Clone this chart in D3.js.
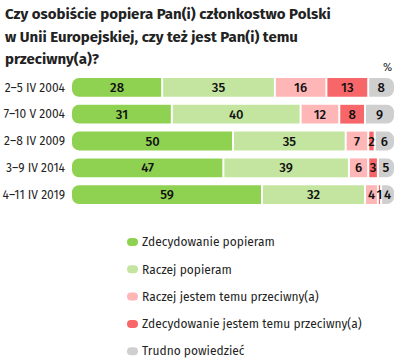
<!DOCTYPE html>
<html>
<head>
<meta charset="utf-8">
<script src="https://cdn.jsdelivr.net/npm/d3@7"></script>
<style>
  body { margin: 0; background: #fff; }
  svg { font-family: "Fira Sans", "Noto Sans", sans-serif; }
</style>
</head>
<body>
<script>
// dane
var titleLines = [
  "Czy osobiście popiera Pan(i) członkostwo Polski",
  "w Unii Europejskiej, czy też jest Pan(i) temu",
  "przeciwny(a)?"
];
var dates = ["2–5 IV 2004", "7–10 V 2004", "2–8 IV 2009", "3–9 IV 2014", "4–11 IV 2019"];
var seriesNames = [
  "Zdecydowanie popieram",
  "Raczej popieram",
  "Raczej jestem temu przeciwny(a)",
  "Zdecydowanie jestem temu przeciwny(a)",
  "Trudno powiedzieć"
];
var zdecydowaniePopieram = [28, 31, 50, 47, 59];
var raczejPopieram = [35, 40, 35, 39, 32];
var raczejPrzeciw = [16, 12, 7, 6, 4];
var zdecydowaniePrzeciw = [13, 8, 2, 3, 1];
var trudno = [8, 9, 6, 5, 4];
var colors = ["#8fd151", "#c3e5a0", "#feb6b6", "#f76668", "#cfcfcf"];

var width = 400, height = 358;
var margin = { left: 72, right: 6 };

var svg = d3.select("body").append("svg")
  .attr("width", width)
  .attr("height", height);

// tytuł
svg.append("g").selectAll("text")
  .data(titleLines)
  .enter()
  .append("text")
  .attr("x", 5)
  .attr("y", (d, i) => 19 + i * 22.5)
  .style("font-size", "15px")
  .style("font-weight", "bold")
  .style("fill", "#222")
  .text(d => d);

var table = dates.map(function (d, i) {
  return {
    date: d,
    values: [zdecydowaniePopieram[i], raczejPopieram[i], raczejPrzeciw[i], zdecydowaniePrzeciw[i], trudno[i]]
  };
});

var x = d3.scaleLinear().domain([0, 100]).range([margin.left, width - margin.right]);
var y = d3.scaleBand().domain(dates).range([78, 204]).paddingInner(0.3).paddingOuter(0);

svg.append("text")
  .attr("x", 392)
  .attr("y", 71)
  .attr("text-anchor", "end")
  .style("font-size", "11px")
  .style("fill", "#222")
  .text("%");

// etykiety wierszy
svg.append("g").selectAll("text")
  .data(dates)
  .enter()
  .append("text")
  .attr("x", 65)
  .attr("y", d => y(d) + y.bandwidth() / 2)
  .attr("dy", "0.35em")
  .attr("text-anchor", "end")
  .style("font-size", "12px")
  .style("fill", "#222")
  .text(d => d);

var r = 7;
function segPath(x0, x1, y0, h, first, last) {
  var p = d3.path();
  var rl = first ? r : 0, rr = last ? r : 0;
  p.moveTo(x0 + rl, y0);
  p.lineTo(x1 - rr, y0);
  if (rr) p.arcTo(x1, y0, x1, y0 + rr, rr);
  p.lineTo(x1, y0 + h - rr);
  if (rr) p.arcTo(x1, y0 + h, x1 - rr, y0 + h, rr);
  p.lineTo(x0 + rl, y0 + h);
  if (rl) p.arcTo(x0, y0 + h, x0, y0 + h - rl, rl);
  p.lineTo(x0, y0 + rl);
  if (rl) p.arcTo(x0, y0, x0 + rl, y0, rl);
  p.closePath();
  return p.toString();
}

var rows = svg.append("g").selectAll("g")
  .data(table)
  .enter()
  .append("g");

rows.each(function (row) {
  var g = d3.select(this);
  var total = d3.sum(row.values);
  var cum = 0;
  var segs = row.values.map(function (v, k) {
    var s = { v: v, k: k, a: cum, b: cum + v };
    cum += v;
    return s;
  });
  var y0 = y(row.date), h = y.bandwidth();
  g.selectAll("path")
    .data(segs)
    .enter()
    .append("path")
    .attr("d", function (s) {
      var x0 = x(s.a * 100 / total) + (s.k > 0 ? 1 : 0);
      var x1 = x(s.b * 100 / total) - (s.k < 4 ? 1 : 0);
      return segPath(x0, x1, y0, h, s.k === 0, s.k === 4);
    })
    .attr("fill", s => colors[s.k]);
  g.selectAll("text")
    .data(segs)
    .enter()
    .append("text")
    .attr("x", s => x((s.a + s.b) / 2 * 100 / total))
    .attr("y", y0 + h / 2)
    .attr("dy", "0.36em")
    .attr("text-anchor", "middle")
    .style("font-size", "13px")
    .style("font-weight", "500")
    .style("fill", "#111")
    .text(s => s.v);
});

// legenda
var legend = svg.append("g").selectAll("g")
  .data(seriesNames)
  .enter()
  .append("g")
  .attr("transform", (d, i) => "translate(127," + (242 + i * 27.3) + ")");

legend.append("rect")
  .attr("x", 0)
  .attr("y", -4)
  .attr("width", 11)
  .attr("height", 8)
  .attr("rx", 4)
  .attr("fill", (d, i) => colors[i]);

legend.append("text")
  .attr("x", 15)
  .attr("y", 0)
  .attr("dy", "0.35em")
  .style("font-size", "12px")
  .style("fill", "#222")
  .text(d => d);
</script>
</body>
</html>
